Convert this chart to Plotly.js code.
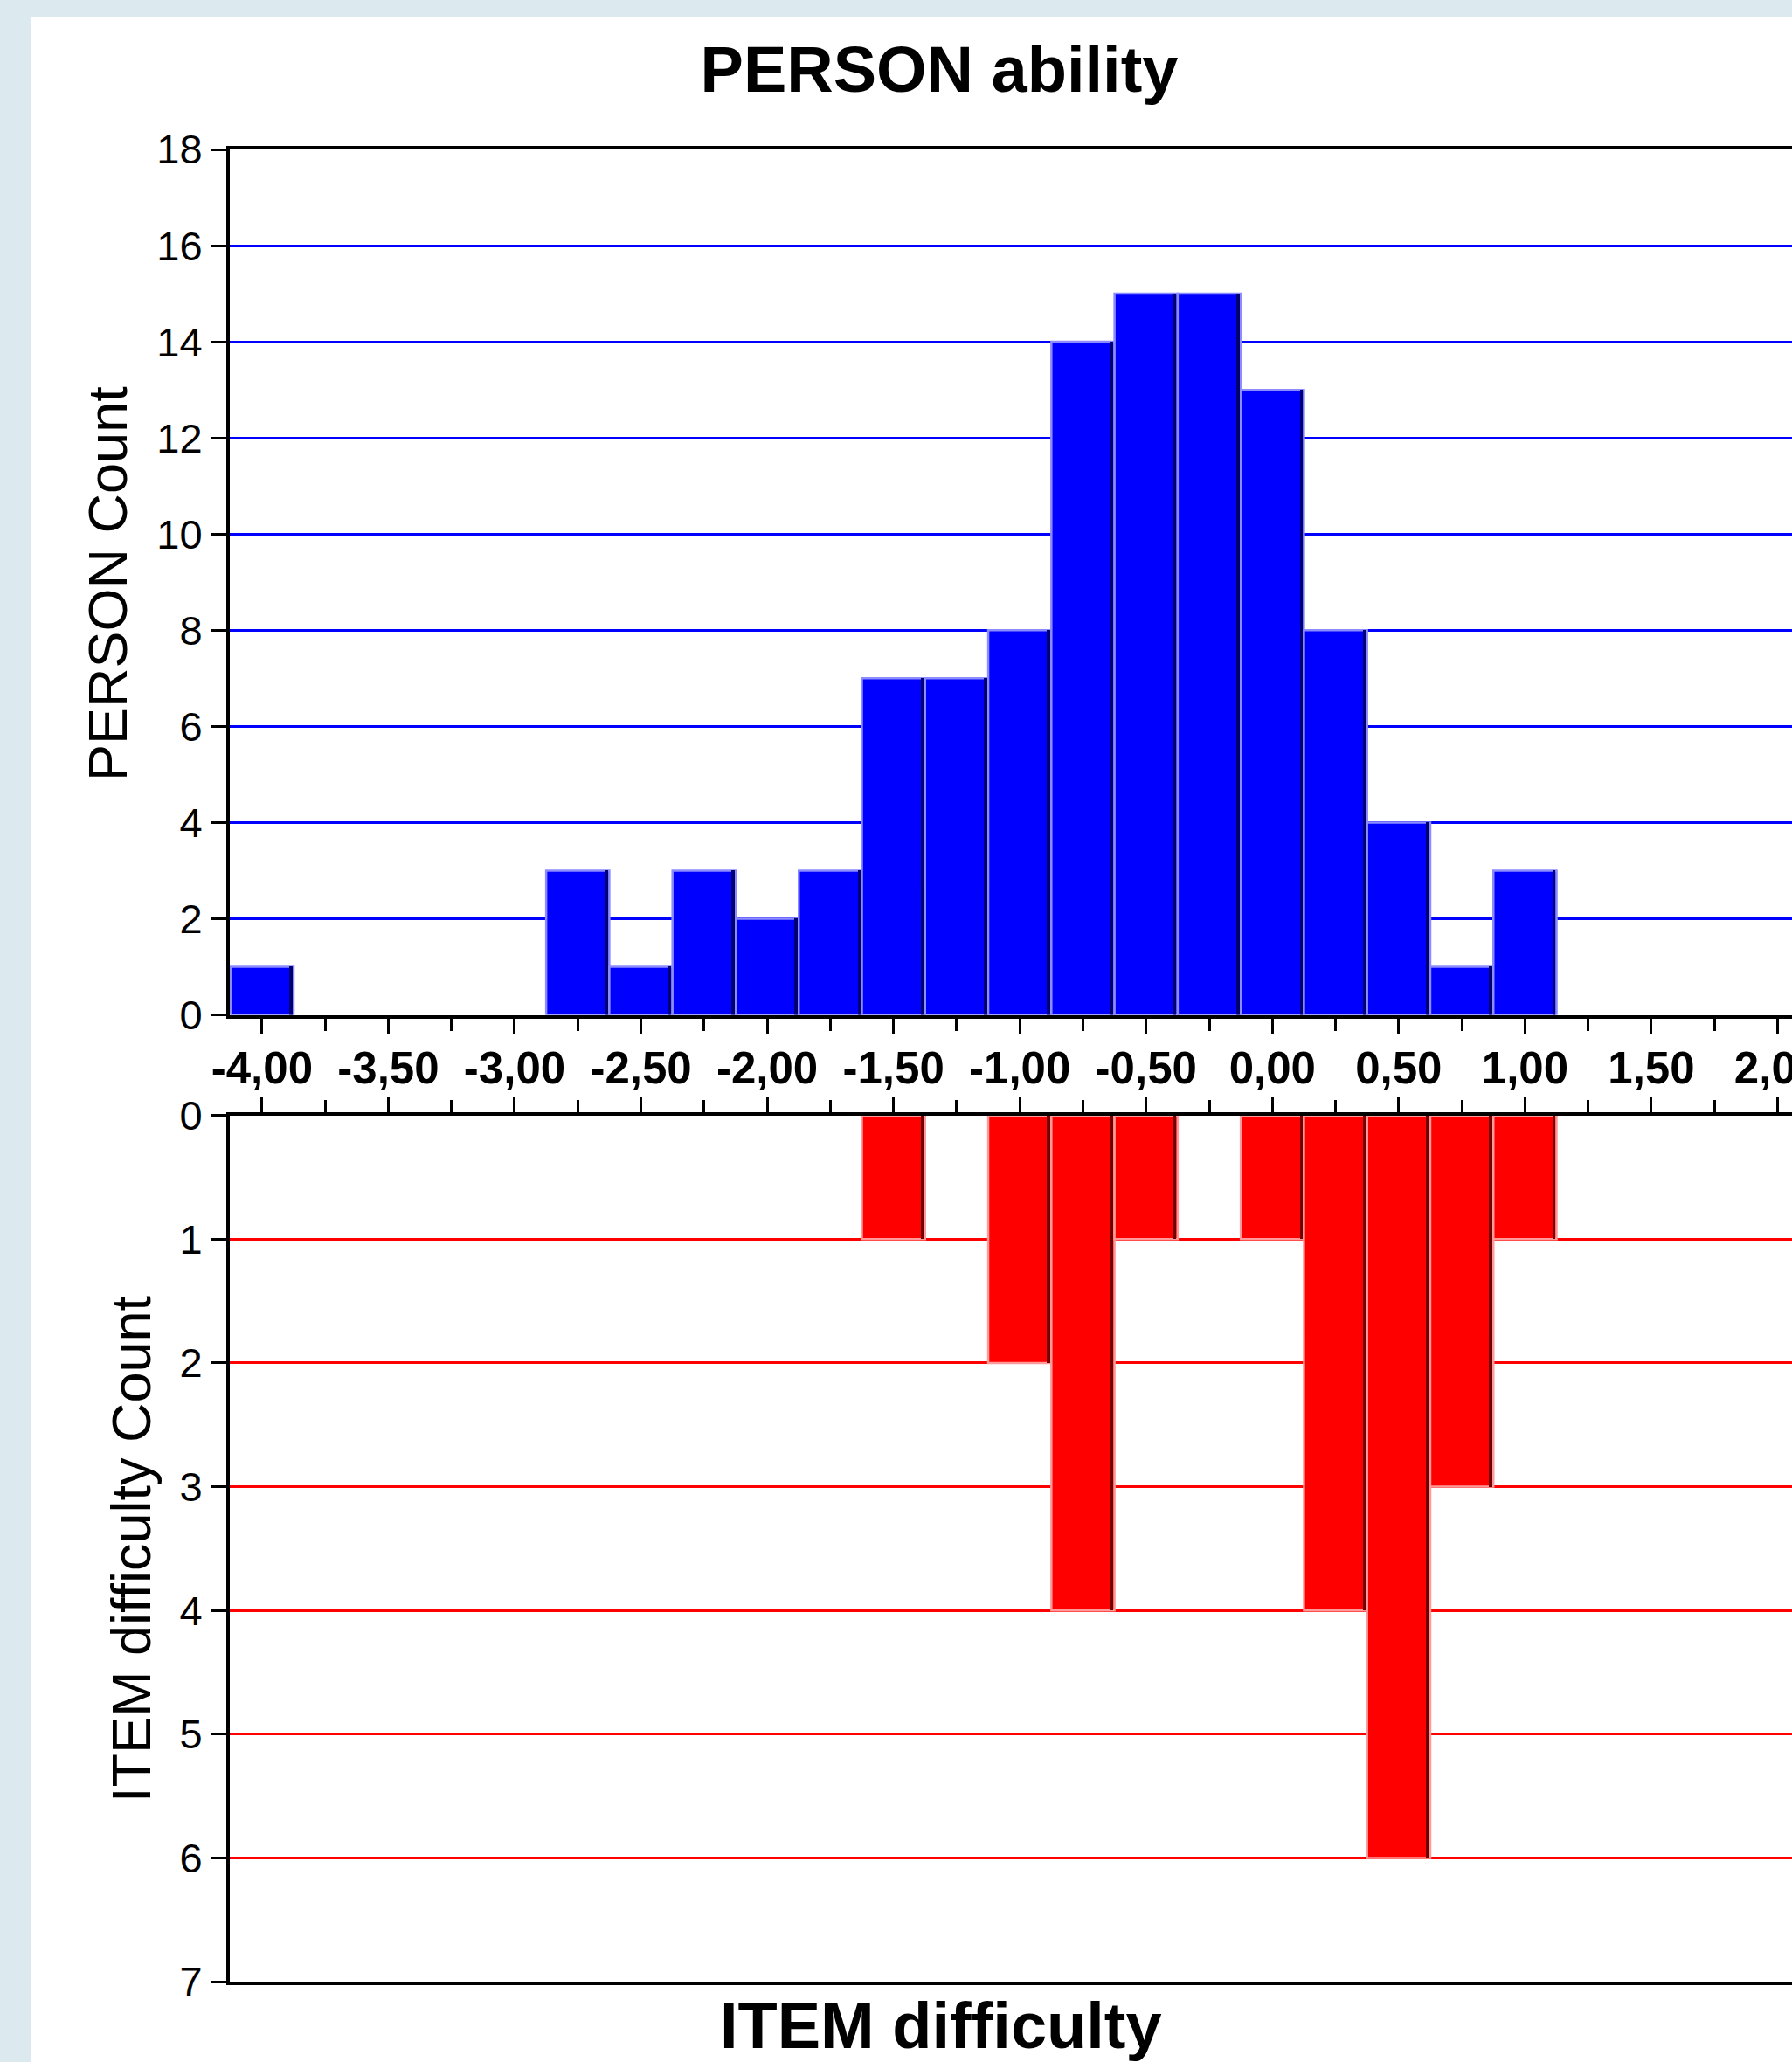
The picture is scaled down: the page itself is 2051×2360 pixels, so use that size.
<!DOCTYPE html>
<html><head><meta charset="utf-8">
<script src="https://cdn.plot.ly/plotly-3.0.1.min.js"></script>
<style>
html,body{margin:0;padding:0;width:2051px;height:2360px;overflow:hidden;background:#dce9ef;}
#panel{position:absolute;left:36px;top:20px;right:0;bottom:0;background:#ffffff;}
#chart{position:absolute;left:0;top:0;width:2051px;height:2360px;}
</style></head><body>
<div id="panel"></div><div id="chart"></div>
<script>
// ---- data ----
const personBins   = [-4.00, -2.75, -2.50, -2.25, -2.00, -1.75, -1.50, -1.25, -1.00, -0.75, -0.50, -0.25, 0.00, 0.25, 0.50, 0.75, 1.00];
const personCounts = [1, 3, 1, 3, 2, 3, 7, 7, 8, 14, 15, 15, 13, 8, 4, 1, 3];
const itemBins     = [-1.50, -1.00, -0.75, -0.50, 0.00, 0.25, 0.50, 0.75, 1.00];
const itemCounts   = [1, 2, 4, 1, 1, 4, 6, 3, 1];
const xTickVals  = [-4.0, -3.5, -3.0, -2.5, -2.0, -1.5, -1.0, -0.5, 0.0, 0.5, 1.0, 1.5, 2.0];
const xTickText  = ['-4,00', '-3,50', '-3,00', '-2,50', '-2,00', '-1,50', '-1,00', '-0,50', '0,00', '0,50', '1,00', '1,50', '2,00'];
const personTicks = [0, 2, 4, 6, 8, 10, 12, 14, 16, 18];
const itemTicks   = [0, 1, 2, 3, 4, 5, 6, 7];

// ---- layout constants ----
const FONT = 'Liberation Sans, Arial, sans-serif';
const W = 2051, H = 2360, L = 263, T = 171, B = 92;
const PW = W - L, PH = H - T - B;
const px2x = p => (p - L) / PW;
const py2y = p => (H - B - p) / PH;
const xRange = [-4.1276, 2.0571];
const BIN = 0.25;

function barPair(xs, ys, fill, light, dark, xa, ya) {
  return [
    {type: 'bar', x: xs, y: ys, xaxis: xa, yaxis: ya, width: BIN,
     marker: {color: fill, line: {color: light, width: 2.5}},
     hoverinfo: 'skip', showlegend: false},
    {type: 'bar', x: xs, y: ys, xaxis: xa, yaxis: ya, width: 0.012, offset: BIN/2 - 0.017,
     marker: {color: dark, line: {width: 0}},
     hoverinfo: 'skip', showlegend: false}
  ];
}

const data = [
  ...barPair(personBins, personCounts, '#0000ff', '#8c8cff', '#000070', 'x', 'y'),
  ...barPair(itemBins, itemCounts, '#ff0000', '#ff9a9a', '#700000', 'x2', 'y2')
];

const xCommon = {
  range: xRange, showgrid: false, zeroline: false,
  showline: true, linecolor: '#000', linewidth: 4, mirror: true,
  ticks: 'outside', ticklen: 18, tickwidth: 3, tickcolor: '#000',
  tickmode: 'array', tickvals: xTickVals, ticktext: xTickText,
  minor: {tickmode: 'linear', tick0: 0, dtick: 0.25, ticks: 'outside', ticklen: 14, tickwidth: 3, tickcolor: '#000', showgrid: false},
  fixedrange: true
};
const yCommon = {
  showgrid: true, gridwidth: 3, zeroline: false,
  showline: true, linecolor: '#000', linewidth: 4,
  ticks: 'outside', ticklen: 18, tickwidth: 3, tickcolor: '#000',
  tickmode: 'array', fixedrange: true,
  tickfont: {family: FONT, size: 47, color: '#000'}
};

const layout = {
  width: W, height: H,
  margin: {l: L, r: 0, t: T, b: B, pad: 0},
  paper_bgcolor: 'rgba(0,0,0,0)', plot_bgcolor: 'rgba(0,0,0,0)',
  barmode: 'overlay', bargap: 0,
  font: {family: FONT, color: '#000'},
  title: {text: 'PERSON ability', font: {family: FONT, size: 74, weight: 'bold', color: '#000'},
          xref: 'container', x: 1075 / W, xanchor: 'center',
          yref: 'container', y: 1 - 79 / H, yanchor: 'middle'},
  xaxis: Object.assign({}, xCommon, {anchor: 'y', side: 'bottom', ticklabeloverflow: 'allow',
          ticklabelstandoff: -5,
          tickfont: {family: FONT, size: 51, weight: 'bold', color: '#000'}}),
  xaxis2: Object.assign({}, xCommon, {anchor: 'y2', side: 'top', showticklabels: false, matches: 'x'}),
  yaxis: Object.assign({}, yCommon, {domain: [py2y(1161.5), 1], range: [0, 18], tickvals: personTicks, gridcolor: '#0000ff'}),
  yaxis2: Object.assign({}, yCommon, {domain: [0, py2y(1276.7)], range: [7, 0], tickvals: itemTicks, gridcolor: '#ff0000'}),
  annotations: [
    {text: 'PERSON Count', xref: 'paper', yref: 'paper', x: px2x(123), y: py2y(668),
     xanchor: 'center', yanchor: 'middle', textangle: -90, showarrow: false,
     font: {family: FONT, size: 63, color: '#000'}},
    {text: 'ITEM difficulty Count', xref: 'paper', yref: 'paper', x: px2x(150), y: py2y(1773),
     xanchor: 'center', yanchor: 'middle', textangle: -90, showarrow: false,
     font: {family: FONT, size: 63, color: '#000'}},
    {text: 'ITEM difficulty', xref: 'paper', yref: 'paper', x: px2x(1077), y: py2y(2318),
     xanchor: 'center', yanchor: 'middle', showarrow: false,
     font: {family: FONT, size: 74, weight: 'bold', color: '#000'}}
  ]
};

Plotly.newPlot('chart', data, layout, {displayModeBar: false, staticPlot: true});
</script>
</body></html>
